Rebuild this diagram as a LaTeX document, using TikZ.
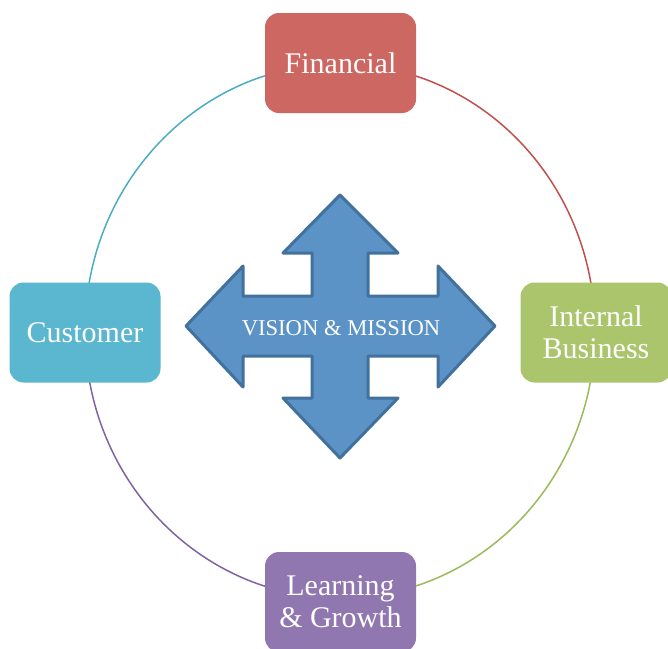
\documentclass[tikz,border=0pt]{standalone}
\usepackage{fontspec}
\setmainfont{Liberation Serif}
\definecolor{finred}{HTML}{CD6762}
\definecolor{custblue}{HTML}{5BB6CF}
\definecolor{intgreen}{HTML}{ABC56C}
\definecolor{learnpurple}{HTML}{9077AF}
\definecolor{arrowfill}{HTML}{5B93C7}
\definecolor{arrowline}{HTML}{41719C}
\definecolor{ringcyan}{HTML}{4BACC6}
\definecolor{ringred}{HTML}{C0504D}
\definecolor{ringgreen}{HTML}{9BBB59}
\definecolor{ringpurple}{HTML}{8064A2}
\tikzset{
  card/.style={rounded corners=14pt, minimum width=151pt, minimum height=100pt,
    text=white, align=center, inner sep=0pt,
    font=\fontsize{30}{32}\selectfont},
  ring/.style={line width=1.5pt},
}
\begin{document}
\begin{tikzpicture}[x=1pt,y=-1pt]
  \useasboundingbox (0,0) rectangle (668,648);
  % ring of four coloured quarter arcs (y grows downwards here)
  \coordinate (ringW) at (85,331);
  \coordinate (ringN) at (340,64);
  \coordinate (ringE) at (595,331);
  \coordinate (ringS) at (340,598);
  \draw[ring, ringcyan]   (ringW) arc[start angle=180, end angle=270, x radius=255, y radius=267];
  \draw[ring, ringred]    (ringN) arc[start angle=270, end angle=360, x radius=255, y radius=267];
  \draw[ring, ringgreen]  (ringE) arc[start angle=0,   end angle=90,  x radius=255, y radius=267];
  \draw[ring, ringpurple] (ringS) arc[start angle=90,  end angle=180, x radius=255, y radius=267];

  % central four-way arrow
  \draw[line width=3pt, line join=round, draw=arrowline, fill=arrowfill]
    (340,195) -- (398,253) -- (368,253) -- (368,296) -- (438,296) -- (438,266)
    -- (495,326) -- (438,387) -- (438,356) -- (368,356) -- (368,398) -- (398,398)
    -- (340,458) -- (283,398) -- (312,398) -- (312,356) -- (243,356) -- (243,387)
    -- (186,326) -- (243,266) -- (243,296) -- (312,296) -- (312,253) -- (283,253)
    -- cycle;
  \node[text=white, font=\fontsize{22.6}{24}\selectfont] (vision) at (341,328)
    {VISION \& MISSION};

  % perspective cards
  \node[card, fill=finred]      (financial) at (340.5,63)  {Financial};
  \node[card, fill=custblue]    (customer)  at (85,332.5)  {Customer};
  \node[card, fill=intgreen]    (internal)  at (596,332.5) {Internal\\Business};
  \node[card, fill=learnpurple] (learning)  at (340.5,602) {Learning\\\& Growth};
\end{tikzpicture}
\end{document}
